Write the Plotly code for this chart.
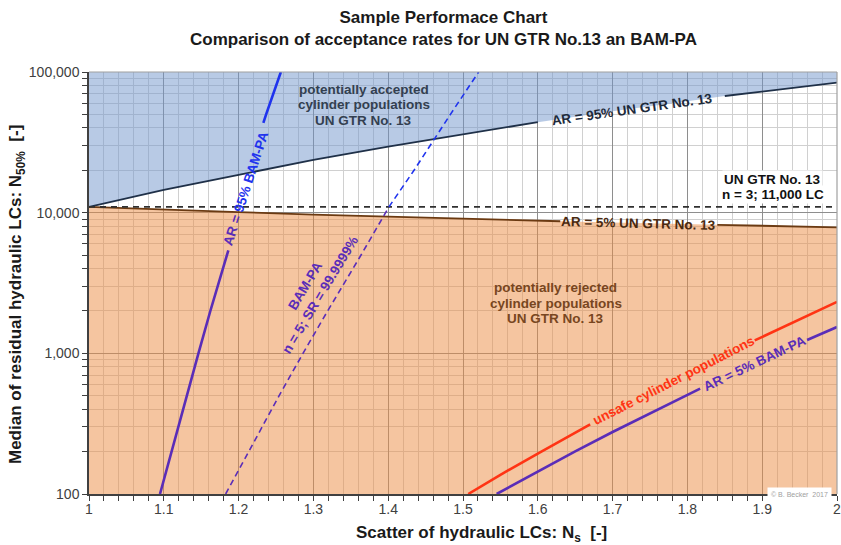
import math
import plotly.graph_objects as go

# ---------------- data ----------------
gtr_limit = 11000  # UN GTR No. 13, n = 3; 11,000 LC

ns_ar95_un = [1.0, 1.1, 1.2, 1.3, 1.4, 1.5, 1.6, 1.7, 1.8, 1.85, 1.9, 2.0]
n50_ar95_un = [11000, 14500, 18600, 23700, 29500, 36000, 44000, 52500, 62000, 67500, 72500, 84000]

ns_ar5_un = [1.0, 1.1, 1.2, 1.3, 1.4, 1.5, 1.63, 1.7, 1.84, 1.9, 2.0]
n50_ar5_un = [11000, 10500, 10100, 9700, 9350, 9050, 8690, 8520, 8200, 8070, 7870]

n50_bam95 = [100, 200, 500, 1000, 2000, 5000, 5400, 43500, 50000, 100000]
ns_bam95 = [1.0949, 1.1101, 1.1304, 1.1463, 1.1622, 1.1836, 1.1863, 1.2331, 1.2368, 1.2565]

n50_bam_sr = [100, 200, 500, 1000, 2000, 5000, 10000, 11000, 20000, 50000, 100000]
ns_bam_sr = [1.1827, 1.2131, 1.2542, 1.2861, 1.3190, 1.3637, 1.397, 1.401, 1.4345, 1.4832, 1.5209]

ns_unsafe = [1.507, 1.55, 1.6, 1.65, 1.67, 1.7, 1.75, 1.8, 1.85, 1.89, 1.95, 2.0]
n50_unsafe = [100, 137, 194, 273, 313, 381, 526, 719, 974, 1235, 1746, 2320]

ns_ar5_bam = [1.545, 1.6, 1.65, 1.7, 1.75, 1.8, 1.817, 1.85, 1.9, 1.96, 2.0]
n50_ar5_bam = [100, 145, 201, 276, 375, 508, 562, 675, 896, 1245, 1540]

x_tick_vals = [1, 1.1, 1.2, 1.3, 1.4, 1.5, 1.6, 1.7, 1.8, 1.9, 2]
x_tick_text = ["1", "1.1", "1.2", "1.3", "1.4", "1.5", "1.6", "1.7", "1.8", "1.9", "2"]
y_tick_vals = [100, 1000, 10000, 100000]
y_tick_text = ["100", "1,000", "10,000", "100,000"]

# ---------------- styling ----------------
FONT = "Liberation Sans, Arial, sans-serif"
C_NAVY = "#1f3048"
C_BROWN = "#6b3a12"
C_PURPLE = "#5a2db8"
C_BLUE = "#1f33ee"
C_RED = "#ff3414"
FILL_BLUE = "rgba(113,149,203,0.5)"
FILL_ORANGE = "rgba(236,140,66,0.5)"
LBL = 13.5

FIG_W, FIG_H = 841, 545
PLOT_L, PLOT_R, PLOT_T, PLOT_B = 89, 837, 72, 494  # plot area in pixels
PLOT_W = PLOT_R - PLOT_L

x_min, x_max = x_tick_vals[0], x_tick_vals[-1]
y_min, y_max = y_tick_vals[0], y_tick_vals[-1]
L = math.log10


def gap(xs, ys, lo, hi, key="x"):
    """Remove points strictly inside (lo, hi) and break the line there."""
    ox, oy = [], []
    inside_prev = False
    for x, y in zip(xs, ys):
        v = x if key == "x" else y
        inside = lo < v < hi
        if inside:
            if not inside_prev:
                ox.append(None)
                oy.append(None)
            inside_prev = True
            continue
        inside_prev = False
        ox.append(x)
        oy.append(y)
    return ox, oy


fig = go.Figure()

# regions
fig.add_trace(go.Scatter(
    x=ns_ar95_un + [ns_ar95_un[-1], ns_ar95_un[0]],
    y=n50_ar95_un + [y_max, y_max],
    fill="toself", fillcolor=FILL_BLUE, mode="none", hoverinfo="skip"))
fig.add_trace(go.Scatter(
    x=ns_ar5_un + [ns_ar5_un[-1], ns_ar5_un[0]],
    y=n50_ar5_un + [y_min, y_min],
    fill="toself", fillcolor=FILL_ORANGE, mode="none", hoverinfo="skip"))

# UN GTR curves
gx, gy = gap(ns_ar95_un, n50_ar95_un, 1.6, 1.85)
fig.add_trace(go.Scatter(x=gx, y=gy, mode="lines", line=dict(color=C_NAVY, width=1.8)))
gx, gy = gap(ns_ar5_un, n50_ar5_un, 1.63, 1.84)
fig.add_trace(go.Scatter(x=gx, y=gy, mode="lines", line=dict(color=C_BROWN, width=1.8)))
fig.add_trace(go.Scatter(x=[x_min, x_max], y=[gtr_limit, gtr_limit], mode="lines",
                         line=dict(color="#303030", width=1.6, dash="6px,5px")))

# BAM-PA AR = 95% (purple below the limit, blue above)
lo_x = [x for x, n in zip(ns_bam95, n50_bam95) if n <= gtr_limit]
lo_y = [n for n in n50_bam95 if n <= gtr_limit]
hi_x = [x for x, n in zip(ns_bam95, n50_bam95) if n >= gtr_limit]
hi_y = [n for n in n50_bam95 if n >= gtr_limit]
gx, gy = gap(lo_x, lo_y, 5400, 43500, key="y")
fig.add_trace(go.Scatter(x=gx, y=gy, mode="lines", line=dict(color=C_PURPLE, width=2.6)))
gx, gy = gap(hi_x, hi_y, 5400, 43500, key="y")
fig.add_trace(go.Scatter(x=gx, y=gy, mode="lines", line=dict(color=C_BLUE, width=2.6)))

# BAM-PA n = 5; SR = 99.9999 % (dashed)
lo_x = [x for x, n in zip(ns_bam_sr, n50_bam_sr) if n <= gtr_limit]
lo_y = [n for n in n50_bam_sr if n <= gtr_limit]
hi_x = [x for x, n in zip(ns_bam_sr, n50_bam_sr) if n >= gtr_limit]
hi_y = [n for n in n50_bam_sr if n >= gtr_limit]
fig.add_trace(go.Scatter(x=lo_x, y=lo_y, mode="lines",
                         line=dict(color=C_PURPLE, width=1.6, dash="6px,4px")))
fig.add_trace(go.Scatter(x=hi_x, y=hi_y, mode="lines",
                         line=dict(color=C_BLUE, width=1.6, dash="6px,4px")))

# unsafe and AR = 5% BAM-PA
gx, gy = gap(ns_unsafe, n50_unsafe, 1.67, 1.89)
fig.add_trace(go.Scatter(x=gx, y=gy, mode="lines", line=dict(color=C_RED, width=2.6)))
gx, gy = gap(ns_ar5_bam, n50_ar5_bam, 1.817, 1.96)
fig.add_trace(go.Scatter(x=gx, y=gy, mode="lines", line=dict(color=C_PURPLE, width=2.6)))


# ---------------- annotations ----------------
def label(text, x, y, color, angle=0, size=LBL, bg=None, yshift=0):
    fig.add_annotation(x=x, y=y, xref="x", yref="y", text=text, showarrow=False,
                       textangle=angle, align="center", yshift=yshift,
                       font=dict(family=FONT, size=size, color=color),
                       bgcolor=bg, xanchor="center", yanchor="middle")


def block(lines, x, y, color, spacing=15.5, bg=None):
    n = len(lines)
    for i, t in enumerate(lines):
        label("<b>" + t + "</b>", x, y, color, bg=bg, yshift=((n - 1) / 2 - i) * spacing)


block(["potentially accepted", "cylinder populations", "UN GTR No. 13"], 1.3676, L(58500), "#333f50")
block(["potentially rejected", "cylinder populations", "UN GTR No. 13"], 1.6243, L(2265), "#784620")
block(["UN GTR No. 13", "n = 3; 11,000 LC"], 1.9144, L(15140), "#111111", spacing=15, bg="white")
label("<b>AR = 95% UN GTR No. 13</b>", 1.726, L(54200), "#1e2a3a", angle=-8)
label("<b>AR = 5% UN GTR No. 13</b>", 1.735, L(8430), "#4a2a10", angle=1.5)
label("<b><span style='color:" + C_PURPLE + "'>AR = </span>95% BAM-PA</b>", 1.2101, L(14760), C_BLUE, angle=-72)
label("<b>BAM-PA<br>n = 5; SR = 99.9999%</b>", 1.2995, L(2787), C_PURPLE, angle=-59)
label("<b>unsafe cylinder populations</b>", 1.782, L(640), C_RED, angle=-27)
label("<b>AR = 5% BAM-PA</b>", 1.890, L(847), C_PURPLE, angle=-25.5)

fig.add_annotation(xref="paper", yref="paper", x=0.993, y=0.0, xanchor="right", yanchor="middle",
                   text="© B. Becker  2017", showarrow=False, bgcolor="white", borderpad=3,
                   font=dict(family=FONT, size=7, color="#a0a0a0"))

# titles
fig.add_annotation(xref="paper", yref="paper", x=(443 - PLOT_L) / PLOT_W, y=1.0, yshift=PLOT_T - 28,
                   xanchor="center", yanchor="middle", showarrow=False,
                   text="<b>Sample Performace Chart<br>Comparison of acceptance rates for UN GTR No.13 an BAM-PA</b>",
                   font=dict(family=FONT, size=17, color="#1a1a1a"))
fig.add_annotation(xref="paper", yref="paper", x=(481 - PLOT_L) / PLOT_W, y=0, yshift=-(534 - PLOT_B),
                   xanchor="center", yanchor="middle", showarrow=False,
                   text="<b>Scatter of hydraulic LCs: N<sub>s</sub>  [-]</b>",
                   font=dict(family=FONT, size=17, color="#1a1a1a"))
fig.add_annotation(xref="paper", yref="paper", x=(17 - PLOT_L) / PLOT_W, y=0.5, yshift=-12,
                   xanchor="center", yanchor="middle", showarrow=False, textangle=-90,
                   text="<b>Median of residual hydraulic LCs: N<sub>50%</sub>  [-]</b>",
                   font=dict(family=FONT, size=17, color="#1a1a1a"))

# border top / right
fig.add_shape(type="line", xref="paper", yref="paper", x0=0, x1=1, y0=1, y1=1,
              line=dict(color="#a0a0a0", width=1.2))
fig.add_shape(type="line", xref="paper", yref="paper", x0=1, x1=1, y0=0, y1=1,
              line=dict(color="#a0a0a0", width=1.2))

axis_common = dict(
    showgrid=True, gridcolor="#8e8e8e", gridwidth=1,
    ticks="outside", ticklen=5, tickcolor="#404040",
    showline=True, linecolor="#404040", linewidth=1.5, zeroline=False,
    automargin=False, ticklabeloverflow="allow",
    tickfont=dict(size=14, color="#404040"),
)

fig.update_layout(
    width=FIG_W, height=FIG_H, showlegend=False,
    margin=dict(l=PLOT_L, r=FIG_W - PLOT_R, t=PLOT_T, b=FIG_H - PLOT_B, autoexpand=False),
    paper_bgcolor="white", plot_bgcolor="white",
    font=dict(family=FONT, size=12, color="#404040"),
    xaxis=dict(range=[x_min, x_max], tickmode="array", tickvals=x_tick_vals, ticktext=x_tick_text,
               ticklabelstandoff=-4,
               minor=dict(dtick=0.02, tick0=1, showgrid=True, gridcolor="#d0d0d0",
                          ticks="outside", ticklen=5, tickcolor="#404040"),
               **axis_common),
    yaxis=dict(type="log", range=[L(y_min), L(y_max)], tickmode="array",
               tickvals=y_tick_vals, ticktext=y_tick_text,
               minor=dict(dtick="D1", showgrid=True, gridcolor="#d0d0d0",
                          ticks="outside", ticklen=5, tickcolor="#404040"),
               **axis_common),
)

fig.write_html("out.html", config={"displayModeBar": False},
               post_script="document.body.style.margin='0';document.body.style.overflow='hidden';")
